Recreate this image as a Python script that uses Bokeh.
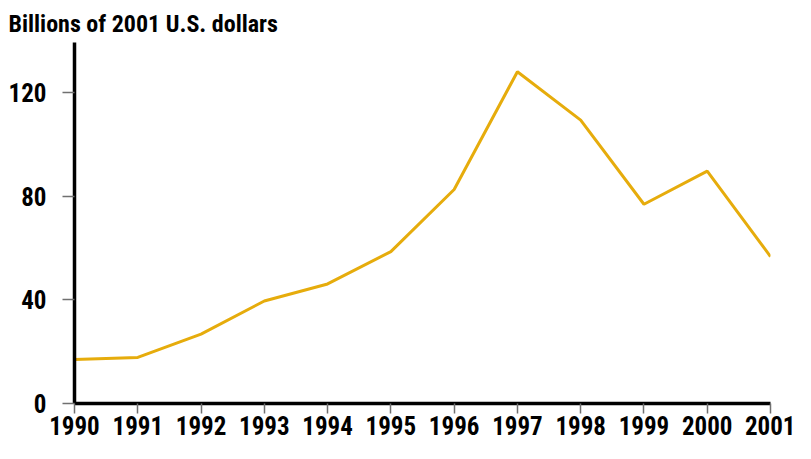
from bokeh.plotting import figure
from bokeh.models import FixedTicker, Range1d
from bokeh.embed import file_html
from bokeh.resources import INLINE

years = [1990, 1991, 1992, 1993, 1994, 1995, 1996, 1997, 1998, 1999, 2000, 2001]
values = [17.0, 17.8, 26.8, 39.6, 46.2, 58.7, 82.7, 128.2, 109.5, 77.0, 89.8, 56.8]
y_ticks = [0, 40, 80, 120]
title_text = "Billions of 2001 U.S. dollars"

FONT = "'Roboto Condensed', 'DejaVu Sans Condensed', 'Liberation Sans', sans-serif"

p = figure(width=795, height=443, output_backend="svg", toolbar_location=None,
           x_range=Range1d(1990, 2001), y_range=Range1d(0, 139.5),
           min_border_left=74, min_border_right=25, min_border_top=42,
           min_border_bottom=40)
p.outline_line_color = None
p.xgrid.visible = False
p.ygrid.visible = False

p.line(years, values, line_color="#E6AC0C", line_width=3)

for ax in (p.xaxis[0], p.yaxis[0]):
    ax.axis_line_color = "black"
    ax.axis_line_width = 3.5
    ax.major_tick_line_color = "#707070"
    ax.major_tick_line_width = 1.5
    ax.major_tick_in = 0
    ax.minor_tick_line_color = None
    ax.major_label_text_font = FONT
    ax.major_label_text_font_style = "bold"
    ax.major_label_text_font_size = "25px"
    ax.major_label_text_color = "black"

p.xaxis[0].ticker = FixedTicker(ticks=years)
p.xaxis[0].major_tick_out = 10
p.xaxis[0].major_label_standoff = 2
p.yaxis[0].ticker = FixedTicker(ticks=y_ticks)
p.yaxis[0].major_tick_out = 12
p.yaxis[0].major_label_standoff = 16

p.title.text = title_text
p.title.text_font = FONT
p.title.text_font_style = "bold"
p.title.text_font_size = "24px"
p.title.text_color = "black"
p.title.align = "left"
p.title.offset = -66
p.title.standoff = 9

open("out.html", "w").write(file_html(p, INLINE))
